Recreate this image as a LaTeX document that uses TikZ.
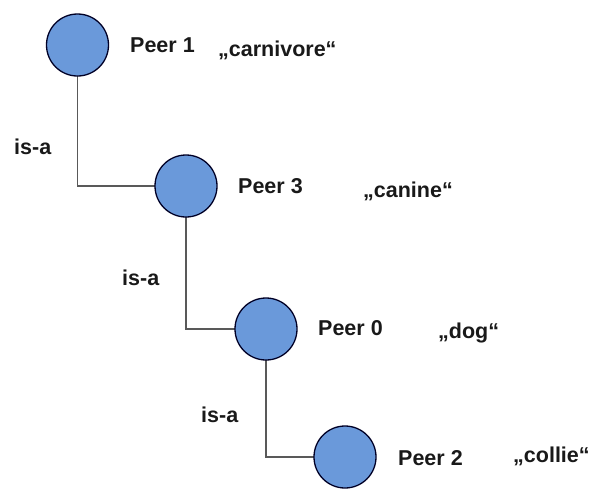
\documentclass[tikz,border=0pt]{standalone}
\usepackage{fontspec}
\setmainfont{Liberation Sans}
\begin{document}
\begin{tikzpicture}[x=1pt,y=-1pt,
  peer/.style={circle,draw=black!85!blue,line width=1.3pt,fill=peerblue,minimum size=62pt,inner sep=0pt},
  link/.style={draw=black!65,line width=1.8pt},
  lbl/.style={anchor=base west,inner sep=0pt,font=\bfseries\fontsize{21.5}{25}\selectfont,text=black!90}]
\definecolor{peerblue}{RGB}{106,153,218}
\useasboundingbox (0,0) rectangle (592,488);
\clip (0,0) rectangle (592,488);
% is-a hierarchy links, drawn first so the circles cover their ends
\coordinate (a1) at (77.5,45);
\coordinate (a3) at (186,186);
\coordinate (a0) at (266,329);
\coordinate (a2) at (345,457);
\draw[link] (a1) |- (a3);
\draw[link] (a3) |- (a0);
\draw[link] (a0) |- (a2);
% peers
\node[peer] (p1) at (a1) {};
\node[peer] (p3) at (a3) {};
\node[peer] (p0) at (a0) {};
\node[peer] (p2) at (a2) {};
% peer names
\node[lbl] (n1) at (130,52) {Peer 1};
\node[lbl] (n3) at (238,193) {Peer 3};
\node[lbl] (n0) at (318,335) {Peer 0};
\node[lbl] (n2) at (398,465) {Peer 2};
% concepts
\node[lbl] (c1) at (218,56) {„carnivore“};
\node[lbl] (c3) at (363,197) {„canine“};
\node[lbl] (c0) at (438,338) {„dog“};
\node[lbl] (c2) at (513,462) {„collie“};
% relation labels
\node[lbl] (r1) at (14,154) {is-a};
\node[lbl] (r2) at (122,285) {is-a};
\node[lbl] (r3) at (201,422) {is-a};
\end{tikzpicture}
\end{document}
